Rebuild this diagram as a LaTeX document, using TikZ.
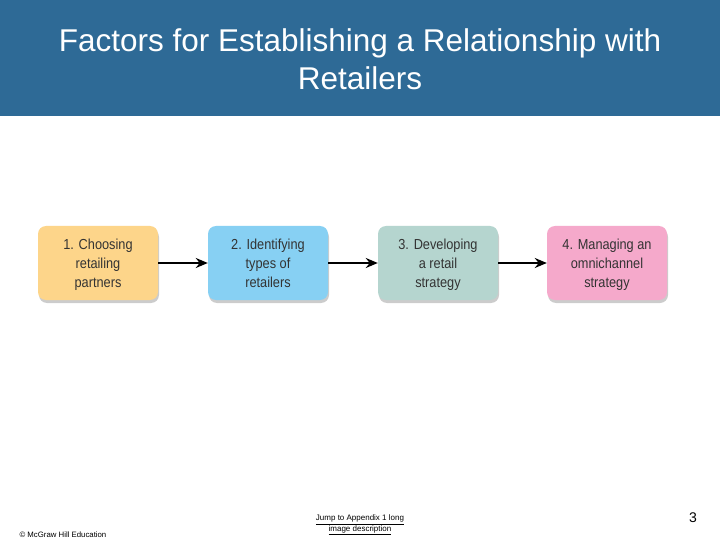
\documentclass[tikz,border=0pt]{standalone}
\usepackage{fontspec}
\setmainfont{Liberation Sans}
\newfontfamily\boxfont[FakeStretch=0.88]{Liberation Sans}
\usetikzlibrary{shadows,arrows.meta}
\definecolor{hdr}{HTML}{2E6A96}
\definecolor{cyel}{HTML}{FDD58A}
\definecolor{cblu}{HTML}{87D0F3}
\definecolor{ctea}{HTML}{B5D5CF}
\definecolor{cpnk}{HTML}{F5A9CB}
\definecolor{ctxt}{HTML}{333333}
\newcommand\topstrut{\rule{0pt}{17.5pt}}
\tikzset{
  stepbox/.style={rounded corners=8pt, minimum width=120pt, minimum height=74pt,
    align=center, text=ctxt, font=\boxfont\fontsize{14.5}{19}\selectfont,
    drop shadow={shadow xshift=1pt, shadow yshift=-3pt, opacity=0.2, fill=black}},
  flow/.style={draw=black, line width=2.5pt, -{Stealth[length=12pt,width=10pt]}},
}
\begin{document}
\begin{tikzpicture}[x=1pt,y=-1pt]
\useasboundingbox (0,0) rectangle (720,540);
\fill[white] (0,0) rectangle (720,540);
\fill[hdr] (0,0) rectangle (720,116);
\node[text=white, align=center, font=\fontsize{31.5}{38}\selectfont] (title) at (360,59)
  {Factors for Establishing a Relationship with\\Retailers};
\node[stepbox, fill=cyel] (b1) at (98,263) {\topstrut 1. Choosing\\retailing\strut\\partners\strut};
\node[stepbox, fill=cblu] (b2) at (268,263) {\topstrut 2. Identifying\\types of\strut\\retailers\strut};
\node[stepbox, fill=ctea] (b3) at (438,263) {\topstrut 3. Developing\\a retail\strut\\strategy\strut};
\node[stepbox, fill=cpnk] (b4) at (607,263) {\topstrut 4. Managing an\\omnichannel\strut\\strategy\strut};
\draw[flow] (b1) -- (b2);
\draw[flow] (b2) -- (b3);
\draw[flow] (b3) -- (b4);
\node[anchor=west, font=\fontsize{7.8}{8}\selectfont] (copy) at (16,535) {© McGraw Hill Education};
\node[align=center, font=\fontsize{8}{9}\selectfont] (jump) at (360,525)
  {\underline{Jump to Appendix 1 long}\\\underline{image description}};
\node[font=\fontsize{14}{16}\selectfont] (pg) at (693,518) {3};
\end{tikzpicture}
\end{document}
